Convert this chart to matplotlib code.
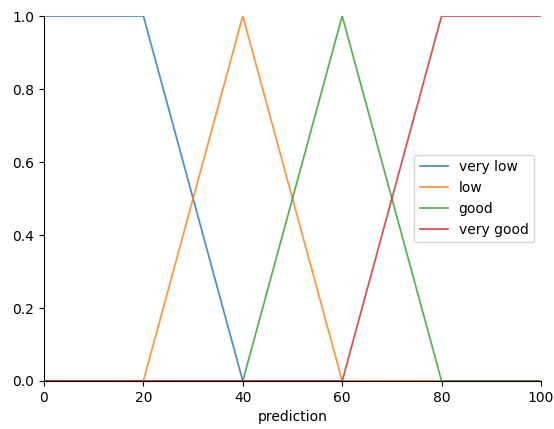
import numpy as np
from matplotlib import pyplot as plt

universe = [0, 20, 40, 60, 80, 100]
terms = ("very low", "low", "good", "very good")
very_low = [1, 1, 0, 0, 0, 0]
low = [0, 0, 1, 0, 0, 0]
good = [0, 0, 0, 1, 0, 0]
very_good = [0, 0, 0, 0, 1, 1]

fig = plt.figure(figsize=(5.54, 4.29), dpi=100)
ax = fig.add_axes([44 / 554, 48 / 429, 497 / 554, 365 / 429])

for label, mf in zip(terms, (very_low, low, good, very_good)):
    ax.plot(universe, mf, label=label, lw=1.3, alpha=0.8)

ax.set_xlim(0, 100)
ax.set_ylim(0, 1.0)
ax.set_xticks([0, 20, 40, 60, 80, 100])
ax.set_yticks([0.0, 0.2, 0.4, 0.6, 0.8, 1.0])
ax.set_xlabel("prediction")
ax.spines["top"].set_visible(False)
ax.spines["right"].set_visible(False)
ax.legend(loc="center right", bbox_to_anchor=(1.0, 0.5))

fig.savefig("out.png", dpi=100)
